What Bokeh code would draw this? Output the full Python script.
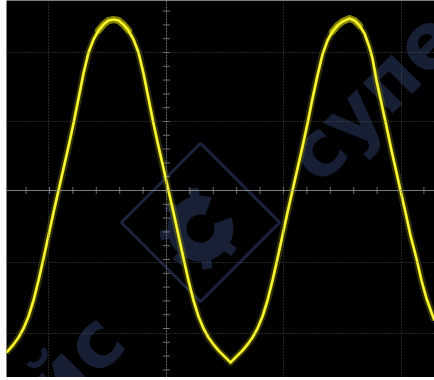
import math
from bokeh.plotting import figure
from bokeh.models import Span, Range1d, ColumnDataSource
from bokeh.core.properties import value
from bokeh.embed import file_html
from bokeh.resources import INLINE

# ---- data (time in samples, level in mV) ----
t_samples = [6, 13, 18, 23, 28, 33, 38, 43, 48, 53,
             58, 63, 68, 73, 78, 83, 88, 93, 98, 103,
             108, 113, 118, 123, 128, 133, 138, 143, 148, 153,
             158, 163, 168, 173, 178, 183, 188, 193, 198, 203,
             208, 213, 218, 223, 227, 230, 233, 237, 242, 247,
             252, 257, 262, 267, 272, 277, 282, 287, 292, 297,
             302, 307, 312, 317, 322, 327, 332, 337, 342, 349,
             354, 359, 364, 369, 372, 376, 381, 386, 391, 396,
             400, 405, 410, 416, 421, 426, 431, 434]
level_mv = [-162, -154, -147, -138, -126, -110, -90, -68, -45, -22,
            0, 22, 44, 67, 92, 117, 138, 151, 160, 166,
            170, 171, 170, 166, 160, 151, 138, 117, 92, 67,
            44, 22, 0, -22, -45, -68, -90, -110, -126, -138,
            -147, -154, -160, -165, -169, -172, -169, -165, -160, -154,
            -147, -138, -126, -110, -90, -68, -45, -22, 0, 22,
            44, 67, 92, 115, 136, 150, 159, 165, 169, 172,
            170, 165, 157, 143, 132, 110, 87, 64, 40, 18,
            0, -22, -45, -68, -90, -108, -122, -130]

# graticule positions
v_grid = [48, 283, 401]
v_center = 166
h_grid = [138, 69, -72, -143]
h_center = 0

W, H = 428, 377
p = figure(width=W, height=H, output_backend="svg", toolbar_location=None,
           x_axis_type=None, y_axis_type=None, min_border=0,
           x_range=Range1d(6, 434), y_range=Range1d(-187, 190),
           background_fill_color="black", border_fill_color="black",
           outline_line_color=None)
p.styles = {"margin-left": "6px", "margin-top": "0px"}
p.grid.visible = False

# watermark
wm = "#161f34"
p.text(x=[372], y=[95], text=["супе"], angle=math.pi / 4, text_align="center",
       text_baseline="middle", text_font=value("DejaVu Sans"), text_font_style="bold",
       text_font_size="78px", text_color=wm)
p.text(x=[74], y=[-172], text=["йс"], angle=math.pi / 4, text_align="center",
       text_baseline="middle", text_font=value("DejaVu Sans"), text_font_style="bold",
       text_font_size="78px", text_color=wm)
p.rect(x=[200], y=[-32], width=112, height=112, angle=math.pi / 4,
       fill_color=None, line_color="#1a243c", line_width=3)
p.annular_wedge(x=[200], y=[-38], inner_radius=14, outer_radius=33,
                start_angle=math.radians(70), end_angle=math.radians(20),
                fill_color="#172035", line_color=None)
teeth_ang = [100, 145, 190, 235, 280, 325]
p.rect(x=[200 + 36 * math.cos(math.radians(a)) for a in teeth_ang],
       y=[-38 + 36 * math.sin(math.radians(a)) for a in teeth_ang],
       width=10, height=10, angle=[math.radians(a) for a in teeth_ang],
       fill_color="#172035", line_color=None)

# graticule
for gx in v_grid:
    p.add_layout(Span(location=gx, dimension="height", line_color="#5e5e5e",
                      line_dash="1 2", line_width=1, line_alpha=0.8))
for gy in h_grid:
    p.add_layout(Span(location=gy, dimension="width", line_color="#5e5e5e",
                      line_dash="1 2", line_width=1, line_alpha=0.8))
p.add_layout(Span(location=v_center, dimension="height", line_color="#808080",
                  line_dash="2 1", line_width=1, line_alpha=0.8))
p.add_layout(Span(location=h_center, dimension="width", line_color="#999999",
                  line_width=1, line_alpha=0.8))

# minor ticks on the centre cross
dx = (v_grid[1] - v_center) / 5.0
tx = [v_center + k * dx for k in range(-8, 12)]
p.scatter(x=tx, y=[h_center] * len(tx), marker="dash", size=7, angle=math.pi / 2,
          line_color="#888888", line_alpha=0.8)
dy = (h_grid[1] - h_center) / 5.0
ty = [h_center + k * dy for k in range(-14, 15)]
p.scatter(x=[v_center] * len(ty), y=ty, marker="dash", size=7,
          line_color="#888888", line_alpha=0.8)

# trace
src = ColumnDataSource(dict(t=t_samples, v=level_mv))
p.line("t", "v", source=src, line_color="#9c9a00", line_width=7, line_alpha=0.3,
       line_join="round")
# peak fuzz
seg_t, seg_v = [], []
for i, val in enumerate(level_mv):
    if val >= 158:
        seg_t.append(t_samples[i]); seg_v.append(val)
    elif seg_t:
        p.line(seg_t, seg_v, line_color="#d8d200", line_width=7, line_alpha=0.5,
               line_join="round", line_cap="round")
        seg_t, seg_v = [], []
p.line("t", "v", source=src, line_color="#eeea10", line_width=2.8, line_join="round")
p.line("t", "v", source=src, line_color="#ffff70", line_width=1.0, line_alpha=0.8,
       line_join="round")

open("out.html", "w").write(file_html(p, INLINE))
